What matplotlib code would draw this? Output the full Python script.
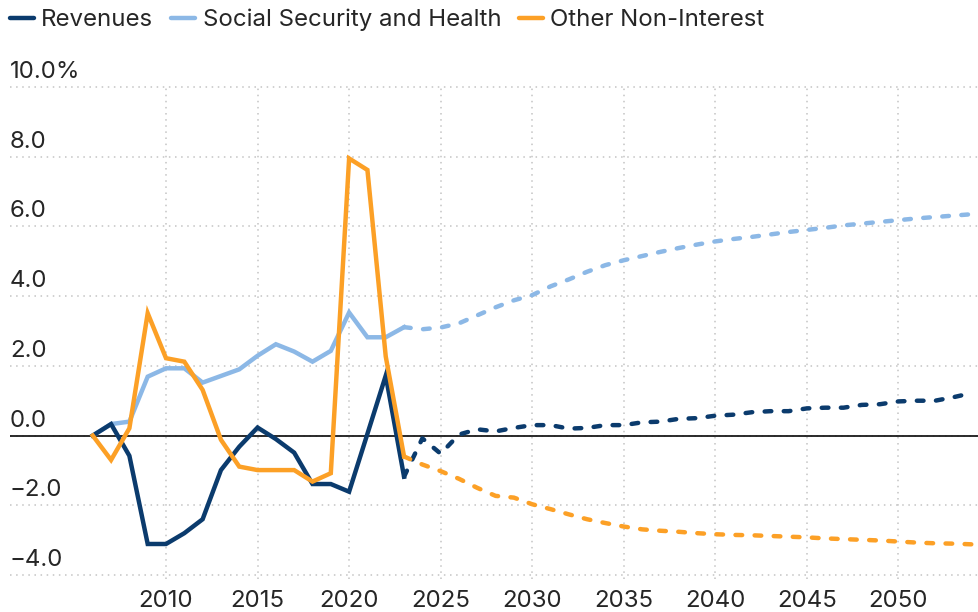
import matplotlib
matplotlib.use("Agg")
import matplotlib.pyplot as plt
from matplotlib.transforms import blended_transform_factory, offset_copy

# ---- data ----
hist_years = list(range(2006, 2024))
rev_hist = [0.0, 0.33, -0.58, -3.11, -3.11, -2.8, -2.4, -0.99, -0.32, 0.23, -0.1, -0.49,
            -1.39, -1.39, -1.61, 0.05, 1.72, -1.18]
ss_hist = [0.0, 0.33, 0.4, 1.69, 1.93, 1.93, 1.52, 1.71, 1.9, 2.29, 2.62, 2.41,
           2.12, 2.43, 3.53, 2.82, 2.82, 3.11]
oth_hist = [0.0, -0.7, 0.21, 3.51, 2.22, 2.12, 1.31, -0.12, -0.89, -0.99, -0.99, -0.99,
            -1.32, -1.08, 7.95, 7.62, 2.27, -0.6]

proj_years = list(range(2023, 2055))
rev_proj = [-1.18, -0.08, -0.52, 0.03, 0.18, 0.12, 0.22, 0.3, 0.3, 0.2, 0.22, 0.3, 0.3,
            0.38, 0.4, 0.48, 0.5, 0.57, 0.6, 0.67, 0.7, 0.7, 0.78, 0.8, 0.8, 0.88, 0.9,
            0.98, 1.0, 1.0, 1.1, 1.22]
ss_proj = [3.11, 3.05, 3.1, 3.22, 3.45, 3.68, 3.88, 4.03, 4.28, 4.48, 4.7, 4.89, 5.03,
           5.15, 5.27, 5.38, 5.48, 5.57, 5.64, 5.7, 5.77, 5.84, 5.9, 5.96, 6.03, 6.08,
           6.13, 6.18, 6.23, 6.27, 6.31, 6.35]
oth_proj = [-0.6, -0.83, -1.02, -1.24, -1.5, -1.73, -1.78, -1.97, -2.11, -2.26, -2.4,
            -2.51, -2.61, -2.69, -2.73, -2.76, -2.8, -2.83, -2.85, -2.86, -2.88, -2.9,
            -2.92, -2.95, -2.97, -2.99, -3.01, -3.04, -3.07, -3.09, -3.1, -3.12]

series_names = ["Revenues", "Social Security and Health", "Other Non-Interest"]
x_ticks = [2010, 2015, 2020, 2025, 2030, 2035, 2040, 2045, 2050]
y_ticks = [-4, -2, 0, 2, 4, 6, 8, 10]
y_labels = ["\u22124.0", "\u22122.0", "0.0", "2.0", "4.0", "6.0", "8.0", "10.0%"]

# ---- style ----
plt.rcParams['font.family'] = ['Inter', 'DejaVu Sans']
NAVY = "#0b3b6d"
LIGHT = "#8cb8e6"
ORANGE = "#fca026"
TXT = "#262626"
FS = 17.3

fig = plt.figure(figsize=(9.79, 6.12), dpi=100)
ax = fig.add_axes([10/979, 1 - 578.5/612, 969/979, (578.5 - 83.5)/612])

lw = 3.2
dash = (0, (1.5, 2.8))
kw_solid = dict(lw=lw, solid_joinstyle='miter')
kw_dash = dict(lw=lw, linestyle=dash, dash_capstyle='round')
ax.plot(hist_years, ss_hist, color=LIGHT, zorder=3, **kw_solid)
ax.plot(proj_years, ss_proj, color=LIGHT, zorder=3, **kw_dash)
ax.plot(hist_years, rev_hist, color=NAVY, zorder=4, **kw_solid)
ax.plot(proj_years, rev_proj, color=NAVY, zorder=4, **kw_dash)
ax.plot(hist_years, oth_hist, color=ORANGE, zorder=5, **kw_solid)
ax.plot(proj_years, oth_proj, color=ORANGE, zorder=5, **kw_dash)

ax.axhline(0, color="#1a1a1a", lw=1.3, zorder=2)

ax.set_xlim(2001.48, 2054.4)
ax.set_ylim(-4.1, 10.1)

for s in ax.spines.values():
    s.set_visible(False)

ax.set_xticks(x_ticks)
ax.set_xticklabels([str(t) for t in x_ticks])
ax.tick_params(axis='x', length=0, pad=8, labelsize=FS, labelcolor=TXT)
ax.set_yticks(y_ticks)
ax.set_yticklabels([])
ax.tick_params(axis='y', length=0)
ax.grid(True, color="#c4c4c4", lw=1.1, linestyle=(0, (1, 3)), zorder=1)

trans = blended_transform_factory(ax.transAxes, ax.transData)
trans = offset_copy(trans, fig=fig, x=0, y=6.5, units='points')
for v, lab in zip(y_ticks, y_labels):
    ax.text(0.0, v, lab, transform=trans, ha='left', va='baseline',
            fontsize=FS, color=TXT)

handles = [plt.Line2D([], [], color=c, lw=lw, solid_capstyle='round') for c in (NAVY, LIGHT, ORANGE)]
fig.legend(handles, series_names, loc='center left', bbox_to_anchor=(10/979, 1 - 20/612),
           ncol=3, frameon=False, fontsize=FS, handlelength=1.0, handletextpad=0.3,
           columnspacing=0.75, borderpad=0, borderaxespad=0, labelcolor=TXT)

fig.savefig("out.png", dpi=100)
